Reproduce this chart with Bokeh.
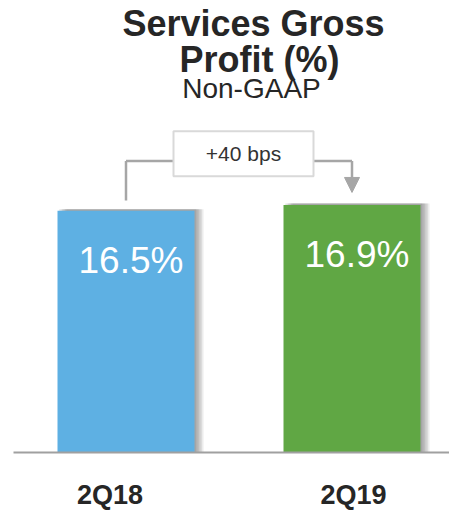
from bokeh.plotting import figure
from bokeh.models import Range1d, Label, Arrow, NormalHead
from bokeh.core.properties import value
from bokeh.embed import file_html
from bokeh.resources import INLINE

# ---- data ----
categories = ["2Q18", "2Q19"]
margins = [16.5, 16.9]
value_labels = ["16.5%", "16.9%"]
bar_colors = ["#5eb0e3", "#60a744"]
change_label = "+40 bps"
title_lines = ["Services Gross", "Profit (%)"]
subtitle = "Non-GAAP"

xs = list(range(len(categories)))
FONT = "Liberation Sans"
px_x = 226.0    # pixels per category step
px_y = 14.65    # pixels per percentage point

W, H = 449, 513
p = figure(width=W, height=H, output_backend="svg", toolbar_location=None,
           min_border=0, min_border_left=0, min_border_right=0,
           min_border_top=0, min_border_bottom=0,
           x_range=Range1d(-125.5 / px_x, 323.5 / px_x),
           y_range=Range1d(-61 / px_y, 452 / px_y))
p.axis.visible = False
p.grid.visible = False
p.outline_line_color = None
p.background_fill_color = "white"
p.border_fill_color = "white"

bw = 137 / px_x

# soft drop shadow to the right of each bar
for k in range(1, 7):
    off = k * 1.5 / px_x
    p.vbar(x=[x + off for x in xs], top=[m + 1.5 / px_y for m in margins],
           bottom=0, width=bw, fill_color="#444444", fill_alpha=0.1,
           line_color=None)

# bars
p.vbar(x=xs, top=margins, bottom=0, width=bw, fill_color=bar_colors, line_color=None)

# baseline
p.segment(x0=[-112.5 / px_x], x1=[323.5 / px_x], y0=[0], y1=[0],
          line_color="#a0a0a0", line_width=2)

# value labels inside bars
p.text(x=[x + 5 / px_x for x in xs],
       y=[m - 50 / px_y for m in margins], text=value_labels,
       text_color="white", text_font=value(FONT), text_font_size="37px",
       text_align="center", text_baseline="alphabetic")

# category labels
p.text(x=[xs[0] - 16 / px_x, xs[1] + 1.5 / px_x],
       y=[-42.5 / px_y] * 2, text=categories,
       text_color="#262626", text_font=value(FONT), text_font_size="27px",
       text_font_style="bold", text_align="center", text_baseline="alphabetic")

# bracket with change annotation
top_y = max(margins) + 3.0
gray = "#a6a6a6"
p.segment(x0=[xs[0]], x1=[xs[0]], y0=[margins[0] + 0.7], y1=[top_y],
          line_color=gray, line_width=2.5)
p.segment(x0=[xs[0]], x1=[xs[1]], y0=[top_y], y1=[top_y],
          line_color=gray, line_width=2.5)
p.add_layout(Arrow(end=NormalHead(size=15, fill_color=gray, line_color=gray),
                   x_start=xs[1], y_start=top_y, x_end=xs[1],
                   y_end=max(margins) + 0.85, line_color=gray, line_width=2.5))
bx = (xs[0] + xs[1]) / 2 + 4.5 / px_x
p.rect(x=[bx], y=[top_y + 0.5], width=140, height=45, width_units="screen",
       height_units="screen", fill_color="white", line_color="#d9d9d9", line_width=2)
p.text(x=[bx], y=[top_y + 0.5], text=[change_label], text_color="#333333",
       text_font=value(FONT), text_font_size="21px", text_align="center",
       text_baseline="middle")

# titles
p.add_layout(Label(x=253, y=490.5, x_units="screen", y_units="screen", text=title_lines[0],
                   text_font=FONT, text_font_size="36px", text_font_style="bold",
                   text_color="#262626", text_align="center", text_baseline="alphabetic"))
p.add_layout(Label(x=259, y=454.5, x_units="screen", y_units="screen", text=title_lines[1],
                   text_font=FONT, text_font_size="36px", text_font_style="bold",
                   text_color="#262626", text_align="center", text_baseline="alphabetic"))
p.add_layout(Label(x=251, y=425.5, x_units="screen", y_units="screen", text=subtitle,
                   text_font=FONT, text_font_size="28px",
                   text_color="#262626", text_align="center", text_baseline="alphabetic"))

open("out.html", "w").write(file_html(p, INLINE))
